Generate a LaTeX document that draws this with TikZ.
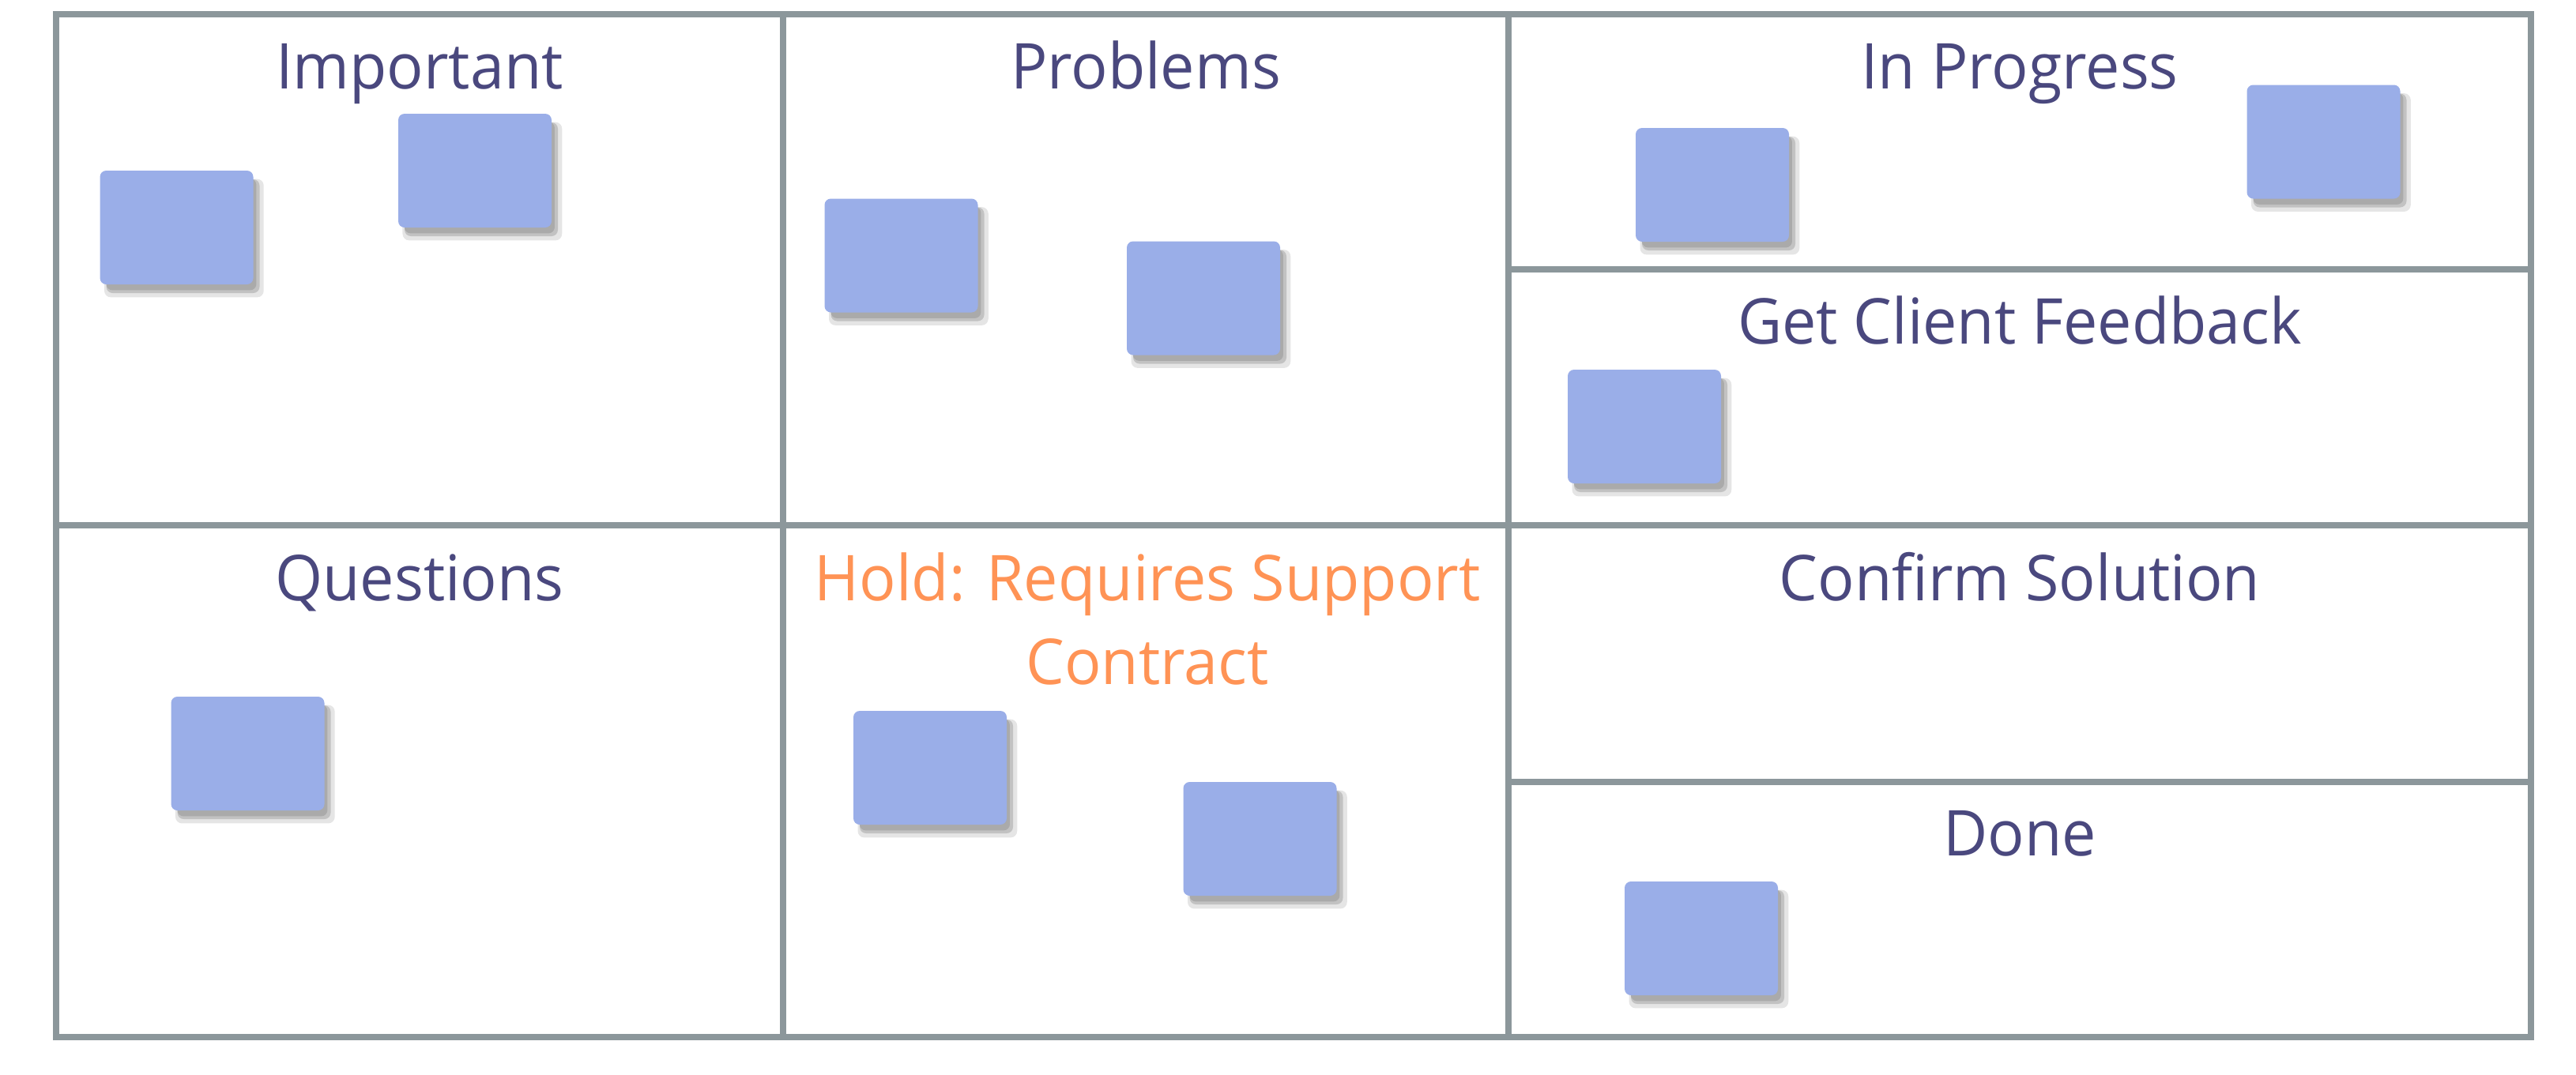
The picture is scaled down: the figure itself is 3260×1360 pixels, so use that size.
\documentclass[tikz,border=0pt]{standalone}
\usepackage{fontspec}
\setmainfont{Open Sans}[FakeStretch=0.965]
\usetikzlibrary{shadows}
\definecolor{gridc}{RGB}{140,151,155}
\definecolor{titlec}{RGB}{74,72,126}
\definecolor{holdc}{RGB}{255,147,85}
\definecolor{notec}{RGB}{154,174,232}
\tikzset{
  cellline/.style={draw=gridc, line width=8pt},
  title/.style={anchor=base, inner sep=0pt, text=titlec, font=\fontsize{80}{106}\selectfont},
  holdtitle/.style={title, text=holdc},
  note/.style={fill=notec, draw=none, rounded corners=8pt, minimum width=194pt, minimum height=144pt, inner sep=0pt,
    general shadow={shadow xshift=9pt, shadow yshift=-13pt, fill=black, opacity=0.10, rounded corners=10pt, shadow scale=1.04},
    general shadow={shadow xshift=8pt, shadow yshift=-11pt, fill=black, opacity=0.15, rounded corners=8pt},
    general shadow={shadow xshift=6pt, shadow yshift=-9pt, fill=black, opacity=0.12, rounded corners=8pt, shadow scale=0.98}}
}
\begin{document}
\begin{tikzpicture}[x=1pt,y=-1pt]
\useasboundingbox (0,0) rectangle (3260,1360);
\fill[white] (0,0) rectangle (3260,1360);
% grid
\draw[cellline] (71,18) rectangle (3203,1313);
\draw[cellline] (991,18) -- (991,1313);
\draw[cellline] (1909,18) -- (1909,1313);
\draw[cellline] (71,665) -- (3203,665);
\draw[cellline] (1909,341) -- (3203,341);
\draw[cellline] (1909,990) -- (3203,990);
% titles
\node[title] (t1) at (531,112.5) {Important};
\node[title] (t2) at (1450,112.5) {Problems};
\node[title] (t3) at (2556,112.5) {In Progress};
\node[title] (t4) at (2556,435) {Get Client Feedback};
\node[title] (t5) at (531,760) {Questions};
\node[holdtitle] (t6a) at (1452,760) {Hold: Requires Support};
\node[holdtitle] (t6b) at (1452,866) {Contract};
\node[title] (t7) at (2556,760) {Confirm Solution};
\node[title] (t8) at (2556,1083) {Done};
% notes
\node[note] (n1) at (223.5,288) {};
\node[note] (n2) at (601,216) {};
\node[note] (n3) at (1140.5,323.5) {};
\node[note] (n4) at (1523,377.5) {};
\node[note] (n5) at (2167,234) {};
\node[note] (n6) at (2940.5,179.5) {};
\node[note] (n7) at (2081,540) {};
\node[note] (n8) at (313.5,954) {};
\node[note] (n9) at (1177,972) {};
\node[note] (n10) at (1594.5,1062) {};
\node[note] (n11) at (2153,1188) {};
\end{tikzpicture}
\end{document}
